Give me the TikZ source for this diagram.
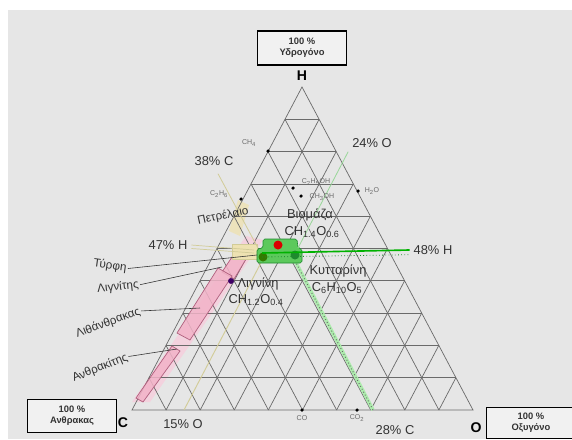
\documentclass[tikz,border=0pt]{standalone}
\usepackage{fontspec}
\setmainfont{Liberation Sans}
\usepackage{tikz}
\usetikzlibrary{positioning,calc}
\definecolor{panel}{HTML}{E6E6E6}
\definecolor{gridgray}{HTML}{6A6A6A}
\definecolor{inkgray}{HTML}{333333}
\definecolor{coalpink}{HTML}{F2B3C8}
\definecolor{coaledge}{HTML}{B0607E}
\definecolor{bandpink}{HTML}{F3D2DE}
\definecolor{peattan}{HTML}{EEE2B2}
\definecolor{biogreen}{HTML}{5CC95C}
\definecolor{biodark}{HTML}{1E8A2E}
\definecolor{paleline}{HTML}{D2CC98}
\newcommand{\sub}[1]{\textsubscript{#1}}

\begin{document}
\begin{tikzpicture}[x=0.03cm, y=-0.03cm,
    every node/.style={text=inkgray},
    cornerbox/.style={draw=black, line width=1.2pt, fill=panel!55!white, minimum width=2.66cm,
      minimum height=1.02cm, align=center, inner sep=1pt, font=\fontsize{8}{9.5}\selectfont\bfseries},
    corner/.style={font=\fontsize{12}{12}\selectfont\bfseries, text=black},
    pct/.style={font=\fontsize{11}{12}\selectfont},
    chem/.style={font=\fontsize{6}{7}\selectfont, text=gridgray, inner sep=1pt},
    fuel/.style={font=\fontsize{10}{11}\selectfont, inner sep=1pt},
    region/.style={font=\fontsize{11}{12}\selectfont, inner sep=1pt},
    dot/.style={circle, fill=black, inner sep=0pt, minimum size=3pt},
    bigdot/.style={circle, inner sep=0pt, minimum size=0.27cm},
    gridline/.style={draw=gridgray, line width=0.6pt},
    leader/.style={draw=inkgray, line width=0.5pt},
    coalbox/.style={fill=coalpink, fill opacity=0.85, draw=coaledge, line width=0.6pt}]

  \useasboundingbox (0,0) rectangle (572,439);
  \fill[panel] (8,10) rectangle (572,439);

  % corners of the triangle
  \coordinate (C) at (132,410);
  \coordinate (O) at (473,410);
  \coordinate (H) at (302,87);

  % pale band of the solid fuels
  \fill[bandpink] (246,236) -- (263,240) -- (150,402) -- (132,402) -- cycle;
  \fill[peattan, opacity=0.8] (238,200) -- (249,205) -- (240,236) -- (229,231) -- cycle;

  % grid
  \foreach \i in {1,...,9} {
    \draw[gridline] ($(C)!\i/10!(H)$) -- ($(O)!\i/10!(H)$);
    \draw[gridline] ($(C)!\i/10!(O)$) -- ($(H)!\i/10!(O)$);
    \draw[gridline] ($(O)!\i/10!(C)$) -- ($(H)!\i/10!(C)$);
  }
  \draw[gridline] (C) -- (O) -- (H) -- cycle;

  % fuel boxes
  \draw[coalbox] (236,251) -- (248,256) -- (234,279) -- (222,272) -- cycle;
  \draw[coalbox] (218,268) -- (232,276) -- (190,340) -- (177,333) -- cycle;
  \draw[coalbox] (172,346) -- (180,351) -- (143,402) -- (136,398) -- cycle;
  \draw[fill=peattan, draw=paleline, line width=0.6pt] (232,244) rectangle (257,259);

  % constant lines to the biomass
  \coordinate (c38end) at (258,248);
  \coordinate (o24end) at (298,248);
  \coordinate (o15base) at (184,410);
  \coordinate (o15end) at (265,255);
  \coordinate (c28base) at (373,410);
  \coordinate (c28end) at (292,255);
  \draw[green!25!panel, line width=3pt] (c28base) -- (c28end);
  \draw[gridgray, dotted, line width=0.8pt] (c28base) -- (c28end);
  \draw[paleline, line width=0.8pt] (o15base) -- (o15end);

  % biomass
  \draw[fill=biogreen, draw=biodark, line width=0.5pt, rounded corners=1.5pt]
    (263,239) -- (297,239) -- (298,248) -- (302,249) -- (302,263) -- (257,263) -- (257,249) -- (263,248) -- cycle;
  \node[bigdot, fill=red!85!black] (cellred) at (278,245) {};
  \node[bigdot, fill=green!35!black!80!yellow] (olive) at (263,257) {};
  \node[bigdot, fill=biodark] (cellgreen) at (295,255) {};

  % corner boxes and letters
  \node[cornerbox] (hbox) at (302,48) {100 \%\\Υδρογόνο};
  \node[cornerbox, minimum height=1.0cm] (cbox) at (72,416) {100 \%\\Ανθρακας};
  \node[cornerbox, minimum height=0.92cm] (obox) at (531,423) {100 \%\\Οξυγόνο};
  \node[corner] (hlbl) at (302,76) {H};
  \node[corner] (clbl) at (123,423) {C};
  \node[corner] (olbl) at (476,428) {O};

  % percentages
  \node[pct] (c38) at (214,161) {38\% C};
  \node[pct] (o24) at (372,143) {24\% O};
  \node[pct] (h47) at (168,245) {47\% H};
  \node[pct] (h48) at (433,250) {48\% H};
  \node[pct] (o15) at (183,424) {15\% O};
  \node[pct] (c28) at (395,430) {28\% C};

  \draw[paleline, line width=0.7pt] (c38.south) ++(4,4) -- (c38end);
  \draw[green!30!panel!80!gray, line width=0.7pt] (o24.south west) -- (o24end);
  \draw[paleline, line width=0.6pt] (h47.east) -- (254,250);
  \draw[paleline, line width=0.6pt] ([yshift=-3]h47.east) -- (254,253);
  \draw[green!70!black, line width=1.4pt] (262,253) -- (h48.west);
  \draw[biodark, dotted, line width=0.7pt] (262,257) -- ([yshift=-4]h48.west);

  % compounds
  \node[dot] (ch4) at (268,151) {};
  \node[chem] at (249,143) {CH\sub{4}};
  \node[dot] (c2h6) at (241,199) {};
  \node[chem] at (219,194) {C\sub{2}H\sub{6}};
  \node[dot] (etoh) at (293,188) {};
  \node[chem] at (316,182) {C\sub{2}H\sub{5}OH};
  \node[dot] (meoh) at (301,196) {};
  \node[chem] at (322,197) {CH\sub{3}OH};
  \node[dot] (water) at (358,191) {};
  \node[chem] at (372,191) {H\sub{2}O};
  \node[dot] (co) at (302,410) {};
  \node[chem] at (302,418) {CO};
  \node[dot] (co2) at (357,410) {};
  \node[chem] at (357,418) {CO\sub{2}};
  \node[circle, fill=black!60!red!60!blue, inner sep=0pt, minimum size=5pt] (lignindot) at (231,281) {};

  % regions in the triangle
  \node[region] (bio) at (310,215) {Βιομάζα};
  \node[region] (bioform) at (312,232) {CH\sub{1.4}O\sub{0.6}};
  \node[region] (cell) at (338,271) {Κυτταρίνη};
  \node[region] (cellform) at (337,288) {C\sub{6}H\sub{10}O\sub{5}};
  \node[region] (lignin) at (258,284) {Λιγνίνη};
  \node[region] (ligninform) at (256,300) {CH\sub{1.2}O\sub{0.4}};

  % fuels
  \node[fuel, rotate=12] (oil) at (223,216) {Πετρέλαιο};
  \node[fuel, rotate=-8] (peat) at (110,266) {Τύρφη};
  \node[fuel, rotate=6] (lignite) at (118,287) {Λιγνίτης};
  \node[fuel, rotate=20] (coal) at (108,323) {Λιθάνθρακας};
  \node[fuel, rotate=22] (anthra) at (100,368) {Ανθρακίτης};

  \coordinate (peatend) at (257,255);
  \coordinate (ligniteend) at (222,267);
  \coordinate (coalend) at (200,308);
  \coordinate (anthraend) at (177,349);
  \draw[leader] (peat.east) -- (peatend);
  \draw[leader] (lignite.east) -- (ligniteend);
  \draw[leader] (coal.east) -- (coalend);
  \draw[leader] (anthra.east) -- (anthraend);
\end{tikzpicture}
\end{document}
